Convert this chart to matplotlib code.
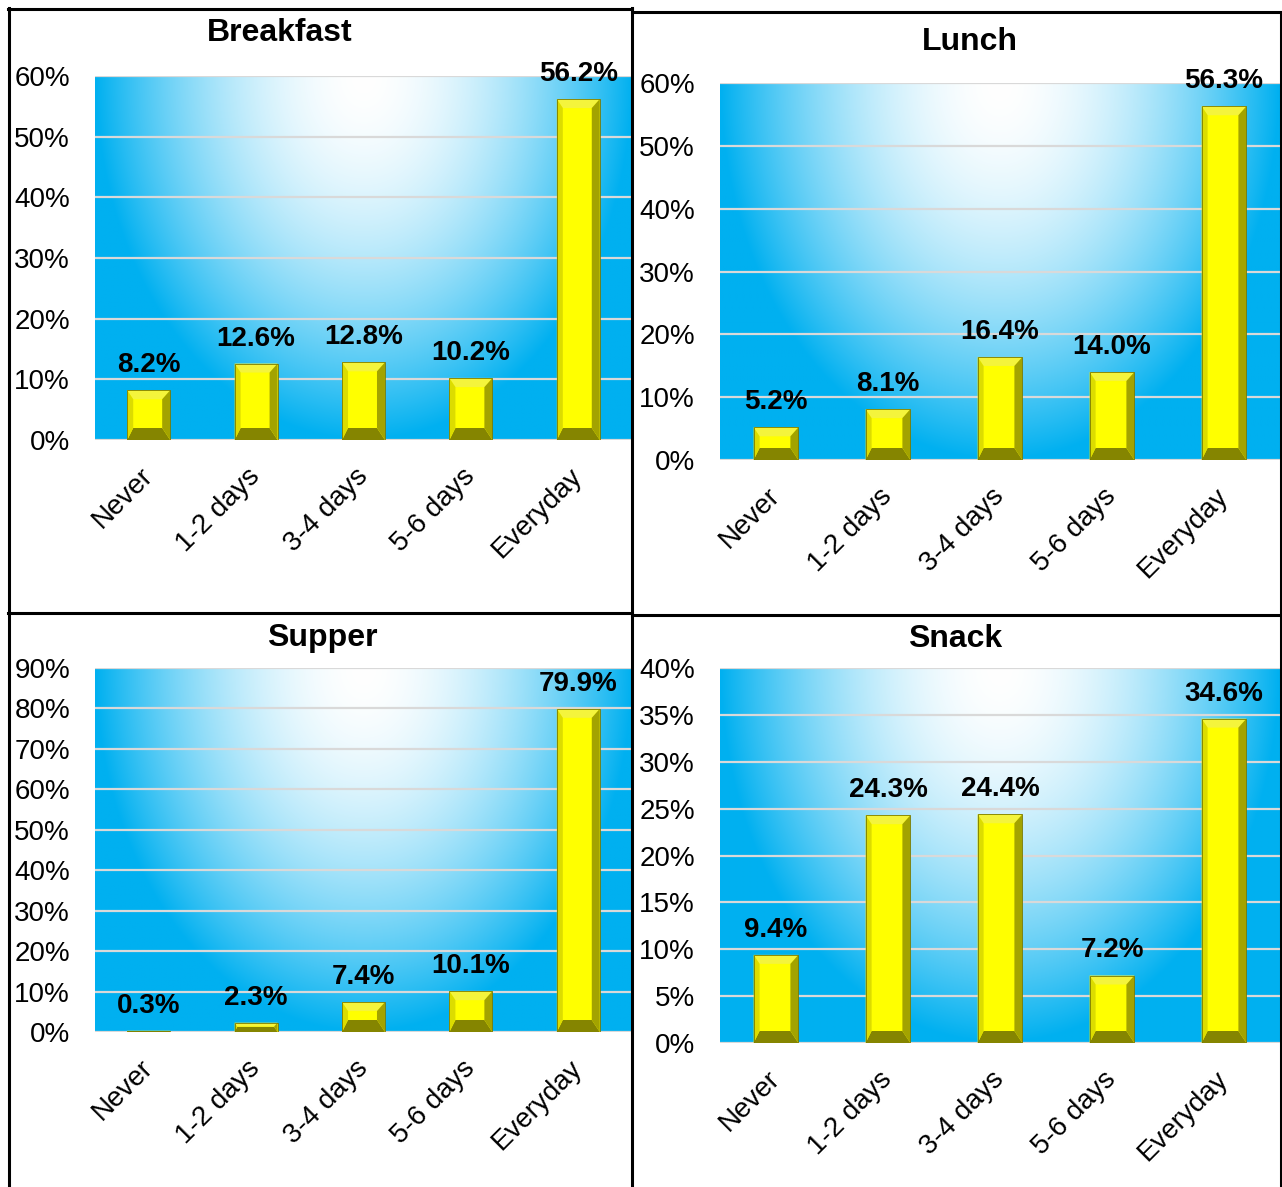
import numpy as np
import matplotlib
matplotlib.use('Agg')
import matplotlib.pyplot as plt
from matplotlib.patches import Polygon
from matplotlib.lines import Line2D
from matplotlib.ticker import FuncFormatter

plt.rcParams['font.family'] = ['Liberation Sans', 'DejaVu Sans']

# Data (percent of respondents)
categories = ['Never', '1-2 days', '3-4 days', '5-6 days', 'Everyday']
breakfast = [8.2, 12.6, 12.8, 10.2, 56.2]
lunch = [5.2, 8.1, 16.4, 14.0, 56.3]
supper = [0.3, 2.3, 7.4, 10.1, 79.9]
snack = [9.4, 24.3, 24.4, 7.2, 34.6]

W, H = 1282, 1187
DPI = 100
fig = plt.figure(figsize=(W / DPI, H / DPI), dpi=DPI)


def px_rect(left, top, right, bottom):
    # pixel box (origin top-left) -> figure fraction rect
    return [left / W, 1 - bottom / H, (right - left) / W, (bottom - top) / H]


panels = [
    # title, values, ymax, ystep, axes box in px, title position in px
    ('Breakfast', breakfast, 60, 10, (95, 76, 632, 440), (280, 33)),
    ('Lunch', lunch, 60, 10, (720, 83, 1280, 460), (970, 42)),
    ('Supper', supper, 90, 10, (95, 668, 632, 1032), (322, 638)),
    ('Snack', snack, 40, 5, (720, 668, 1280, 1043), (955, 639)),
]

BLUE = np.array([0, 176, 240]) / 255.0


def gradient_image(nx=400, ny=300):
    xs = np.linspace(0, 1, nx)
    ys = np.linspace(1, 0, ny)
    X, Y = np.meshgrid(xs, ys)
    r = np.sqrt(((X - 0.5) / 0.5) ** 2 + (1 - Y) ** 2)
    t = np.clip(r, 0, 1) ** 1.8
    img = (1 - t[..., None]) * 1.0 + t[..., None] * BLUE
    return img


def bevel_bar(ax, patch):
    # split a plain bar into a face plus four shaded bevel strips
    x, y = patch.get_x(), patch.get_y()
    w, h = patch.get_width(), patch.get_height()
    (x0, y0), (x1, y1) = ax.transData.transform([(x, y), (x + w, y + h)])
    hh = y1 - y0
    s = min(1.0, hh / 22.0)
    bt, bb, bl, br = 9 * s, 12 * s, 6 * s, 8 * s
    inv = ax.transData.inverted()
    pieces = [
        ([(x0 + bl, y0 + bb), (x1 - br, y0 + bb), (x1 - br, y1 - bt), (x0 + bl, y1 - bt)], '#ffff00'),
        ([(x0, y1), (x1, y1), (x1 - br, y1 - bt), (x0 + bl, y1 - bt)], '#f4f43c'),
        ([(x0, y0), (x1, y0), (x1 - br, y0 + bb), (x0 + bl, y0 + bb)], '#858500'),
        ([(x0, y0), (x0 + bl, y0 + bb), (x0 + bl, y1 - bt), (x0, y1)], '#dcdc00'),
        ([(x1, y0), (x1 - br, y0 + bb), (x1 - br, y1 - bt), (x1, y1)], '#a3a300'),
    ]
    for pts, col in pieces:
        ax.add_patch(Polygon(inv.transform(pts), closed=True, facecolor=col,
                             edgecolor='none', zorder=3))
    ax.add_patch(Polygon(inv.transform([(x0, y0), (x1, y0), (x1, y1), (x0, y1)]),
                         closed=True, facecolor='none', edgecolor='#7a7a00',
                         linewidth=0.6, zorder=4))


grad = gradient_image()
xpos = np.arange(len(categories))

for title, values, ymax, ystep, box, tpos in panels:
    ax = fig.add_axes(px_rect(*box))
    ax.imshow(grad, extent=(0, 1, 0, 1), transform=ax.transAxes,
              aspect='auto', zorder=0, interpolation='bilinear')
    ax.set_xlim(-0.5, len(categories) - 0.5)
    ax.set_ylim(0, ymax)

    ticks = np.arange(0, ymax + 0.1, ystep)
    ax.set_yticks(ticks)
    ax.yaxis.set_major_formatter(FuncFormatter(lambda v, p: f'{v:.0f}%'))
    for t in ticks:
        ax.axhline(t, color='#d9d9d9', linewidth=1.6, zorder=1)

    bars = ax.bar(xpos, values, width=0.4, color='#ffff00', zorder=2)
    for patch in bars:
        bevel_bar(ax, patch)

    for xv, v in zip(xpos, values):
        ax.annotate(f'{v:.1f}%', (xv, v), xytext=(0, 13), textcoords='offset points',
                    ha='center', va='baseline', fontsize=20, fontweight='bold',
                    zorder=5)

    # category labels, slanted under each bar
    ax.set_xticks(xpos)
    ax.set_xticklabels([])
    for xv, cat in zip(xpos, categories):
        ax.annotate(cat, (xv, 0), xycoords=('data', 'axes fraction'),
                    xytext=(-6.5, -16.5), textcoords='offset points',
                    rotation=45, ha='right', va='top', rotation_mode='anchor',
                    fontsize=20, annotation_clip=False)
    ax.tick_params(axis='x', length=0)
    ax.tick_params(axis='y', length=0, pad=18, labelsize=20)
    for sp in ax.spines.values():
        sp.set_visible(False)

    fig.text(tpos[0] / W, 1 - tpos[1] / H, title, ha='center', va='center',
             fontsize=23, fontweight='bold')

# panel frames
frame = [
    ((8, 632), (9, 9)),
    ((9, 9), (8, 1187)),
    ((632, 632), (8, 1187)),
    ((632, 1281), (12, 12)),
    ((1281, 1281), (12, 1187)),
    ((8, 632), (613, 613)),
    ((632, 1281), (615, 615)),
]
for xs, ys in frame:
    fig.add_artist(Line2D([x / W for x in xs], [1 - y / H for y in ys],
                          transform=fig.transFigure, color='black', linewidth=2.2))

fig.savefig('out.png', dpi=DPI)
